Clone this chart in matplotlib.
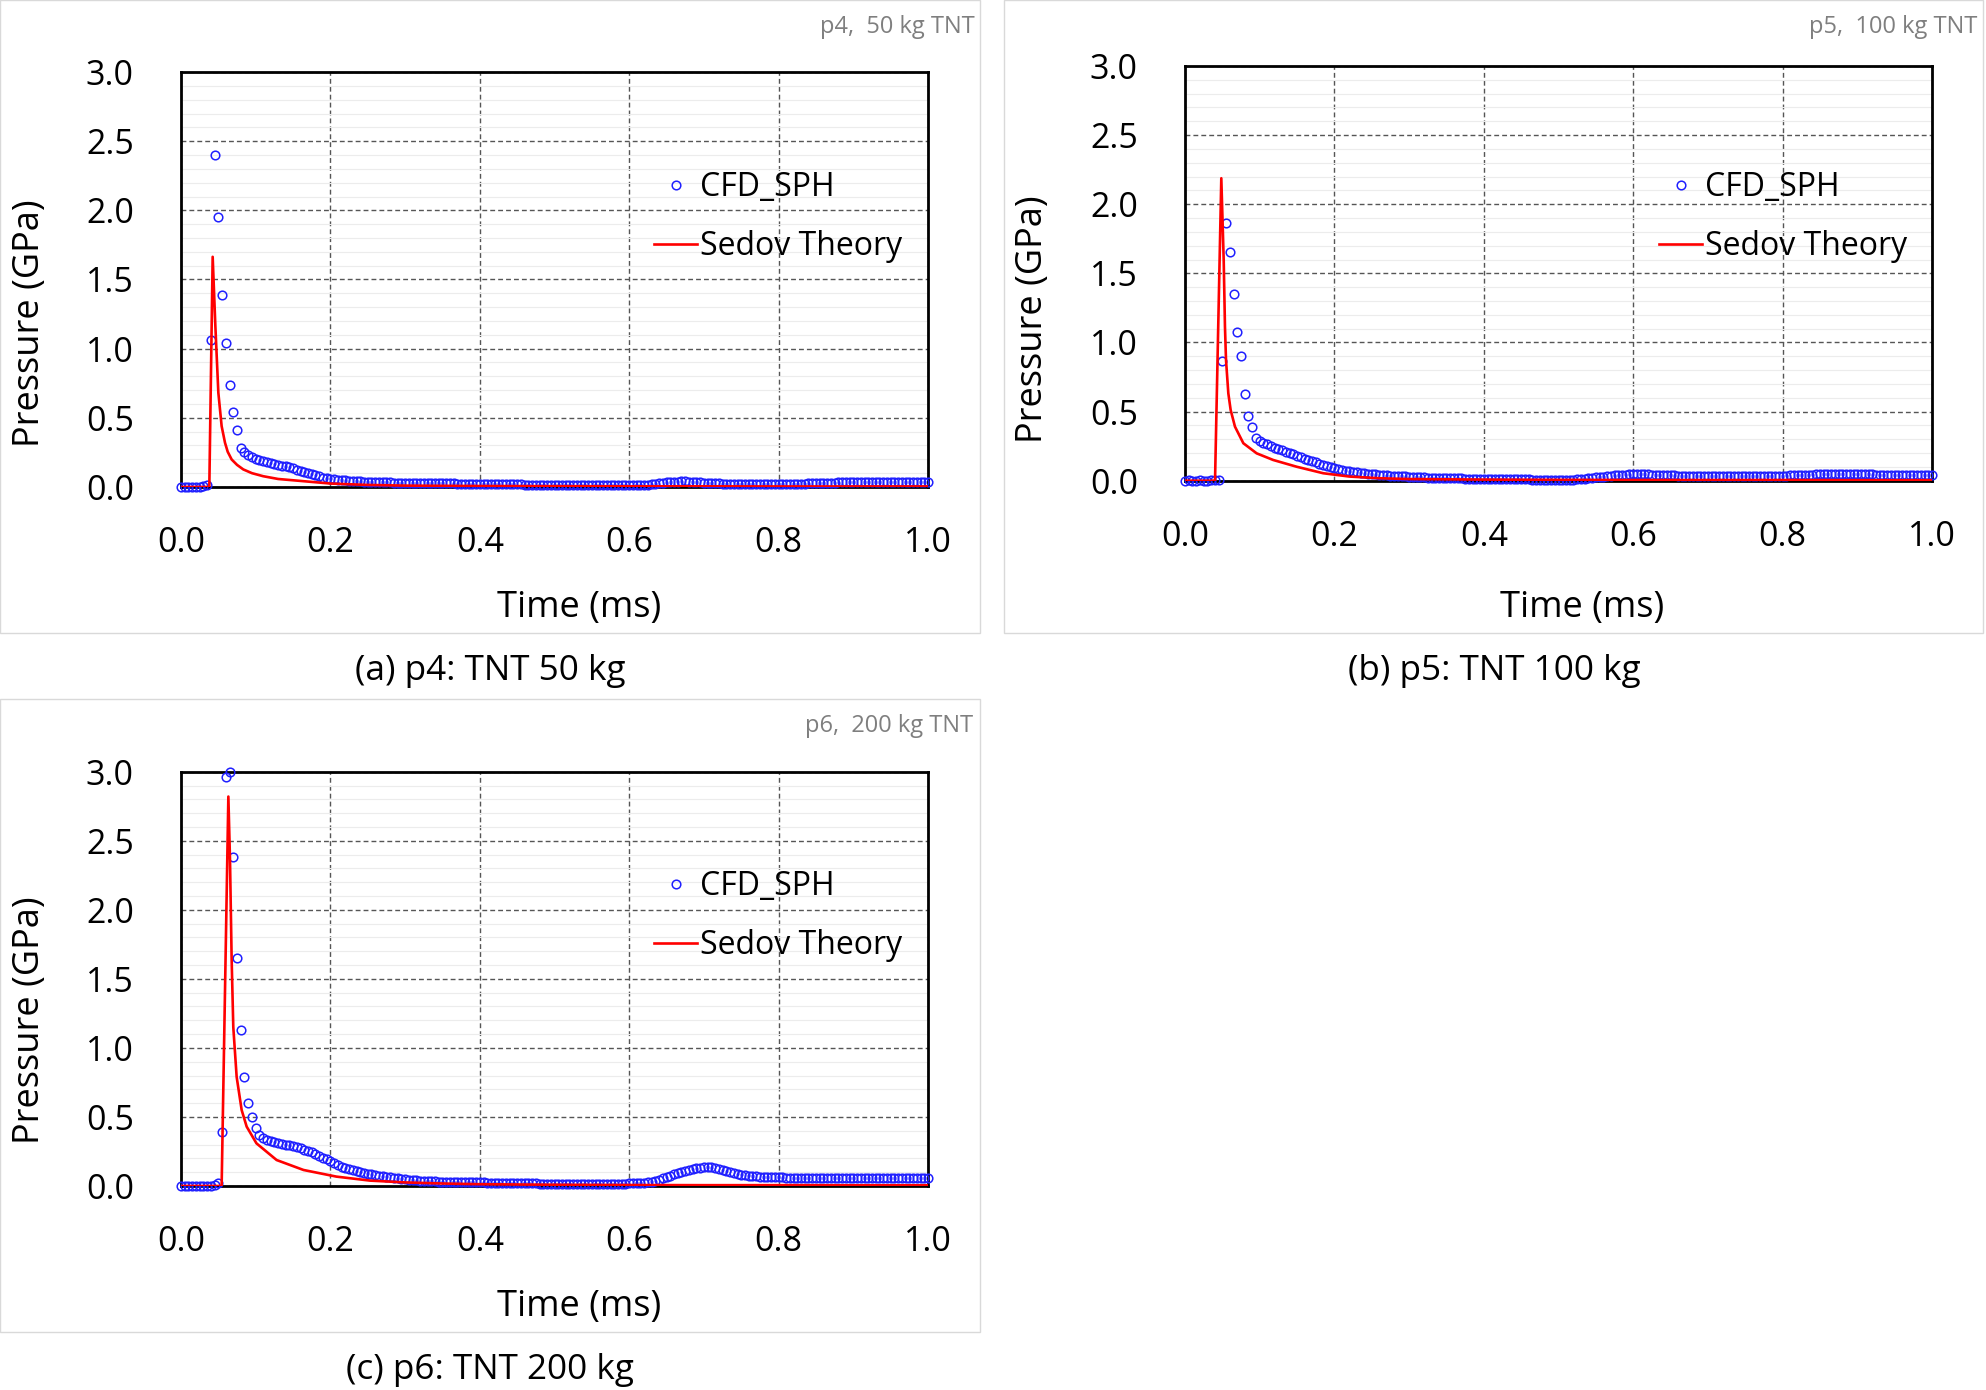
import numpy as np
import matplotlib
matplotlib.use("Agg")
import matplotlib.pyplot as plt
from matplotlib.patches import Rectangle
from matplotlib.ticker import FormatStrFormatter, MultipleLocator

# ---- data ----
dt_cfd = 0.005  # CFD output interval (ms)

p4_cfd = [0.0, 0.0, 0.002, 0.0, 0.003, 0.0, 0.004, 0.012,
          1.06, 2.40, 1.95, 1.39, 1.04, 0.74, 0.54, 0.41, 0.285,
          0.25, 0.23, 0.215, 0.203, 0.193, 0.185, 0.178, 0.171, 0.165, 0.16,
          0.155, 0.15, 0.142, 0.134, 0.126, 0.118, 0.11, 0.103, 0.094, 0.085,
          0.076, 0.067, 0.062, 0.058, 0.055, 0.052, 0.049, 0.047, 0.045, 0.043,
          0.042, 0.041, 0.039, 0.038,
          0.037, 0.036, 0.035, 0.034, 0.033, 0.033, 0.032, 0.031, 0.031, 0.030,
          0.030, 0.029, 0.029, 0.028, 0.028, 0.028, 0.027, 0.027, 0.027, 0.026,
          0.026, 0.026, 0.026, 0.025, 0.025, 0.025, 0.025, 0.024, 0.024, 0.024,
          0.024, 0.023, 0.023, 0.022, 0.022, 0.021, 0.021, 0.020, 0.020, 0.019,
          0.019, 0.018, 0.018, 0.017, 0.017, 0.016, 0.016, 0.015, 0.015, 0.014,
          0.014, 0.013, 0.013, 0.013, 0.012, 0.012, 0.012, 0.012, 0.012, 0.012,
          0.012, 0.012, 0.012, 0.012, 0.012, 0.012, 0.013, 0.013, 0.013, 0.013,
          0.014, 0.014, 0.015, 0.016, 0.018, 0.020,
          0.023, 0.027, 0.031, 0.034, 0.036, 0.038, 0.039, 0.040, 0.040, 0.039,
          0.038, 0.036, 0.034, 0.032, 0.030, 0.028,
          0.027, 0.026, 0.025, 0.025, 0.025, 0.024, 0.024, 0.024, 0.024, 0.024,
          0.024, 0.024, 0.024, 0.024, 0.024, 0.024, 0.024, 0.024, 0.024, 0.024,
          0.025, 0.025, 0.025, 0.025, 0.025, 0.026, 0.026, 0.027, 0.028, 0.029,
          0.030, 0.031, 0.032, 0.033, 0.034, 0.035, 0.036, 0.036, 0.037, 0.037,
          0.037, 0.038, 0.038, 0.038, 0.038, 0.038, 0.038, 0.038, 0.038, 0.037,
          0.037, 0.037, 0.037, 0.037, 0.037, 0.036, 0.036, 0.036]

p5_cfd = [0.0, 0.002, 0.0, 0.0, 0.003, 0.0, 0.0, 0.002, 0.004, 0.006,
          0.866, 1.862, 1.653, 1.353, 1.076, 0.90, 0.625, 0.468, 0.389, 0.31,
          0.29, 0.275, 0.262, 0.25, 0.24, 0.23, 0.22, 0.21, 0.2, 0.19,
          0.18, 0.17, 0.16, 0.15, 0.141, 0.132, 0.123, 0.114, 0.105, 0.097,
          0.09, 0.084, 0.078, 0.073, 0.068, 0.064, 0.06, 0.056, 0.053, 0.05, 0.047,
          0.045, 0.043, 0.041, 0.039, 0.037, 0.035, 0.033, 0.032, 0.031, 0.029,
          0.028, 0.027, 0.025, 0.024, 0.023, 0.022, 0.021, 0.020, 0.019, 0.018,
          0.017, 0.017, 0.016, 0.016, 0.015, 0.015, 0.014, 0.014, 0.013, 0.013,
          0.012, 0.012, 0.012, 0.011, 0.011, 0.011, 0.010, 0.010, 0.010, 0.010,
          0.009, 0.009, 0.008, 0.008, 0.008, 0.007, 0.007, 0.007, 0.007, 0.006,
          0.006, 0.006, 0.007, 0.008, 0.010, 0.012, 0.015, 0.018,
          0.021, 0.024, 0.027, 0.030, 0.033, 0.036, 0.039, 0.041, 0.043, 0.044,
          0.045, 0.046, 0.046, 0.046, 0.045, 0.045, 0.044, 0.043, 0.042, 0.041,
          0.040, 0.039, 0.038, 0.037, 0.036, 0.036, 0.035, 0.035, 0.035, 0.035,
          0.034, 0.034, 0.034, 0.034, 0.034, 0.034, 0.034, 0.034, 0.035, 0.035,
          0.035, 0.035, 0.035, 0.035, 0.035, 0.035, 0.035, 0.036, 0.036, 0.036,
          0.036, 0.037, 0.037, 0.038, 0.039, 0.040, 0.041, 0.042,
          0.043, 0.044, 0.045, 0.045, 0.046, 0.046, 0.046, 0.046, 0.046, 0.046,
          0.046, 0.046, 0.046, 0.045, 0.045, 0.045, 0.045, 0.045, 0.044, 0.044,
          0.043, 0.042, 0.041, 0.040,
          0.039, 0.039, 0.038, 0.038, 0.038, 0.038, 0.038, 0.038, 0.038, 0.038]

p6_cfd = [0.0, 0.0, 0.002, 0.0, 0.0, 0.003, 0.0, 0.002, 0.0, 0.004,
          0.02, 0.39, 2.96, 2.995, 2.385, 1.65, 1.13, 0.787, 0.60, 0.497, 0.42,
          0.37, 0.345, 0.335, 0.325, 0.318, 0.31, 0.305, 0.30, 0.295, 0.288,
          0.28, 0.272, 0.264, 0.255, 0.243, 0.23, 0.218, 0.205, 0.192, 0.18,
          0.166, 0.152, 0.14, 0.13, 0.122, 0.115, 0.108, 0.102, 0.096, 0.09,
          0.085, 0.08, 0.076, 0.072, 0.068, 0.064, 0.06, 0.056, 0.052, 0.048,
          0.045, 0.042, 0.04, 0.038, 0.036, 0.035, 0.034, 0.033, 0.032, 0.031,
          0.031, 0.030, 0.030, 0.029, 0.029, 0.028, 0.028, 0.027, 0.027, 0.026,
          0.026, 0.025, 0.025, 0.024, 0.024, 0.023, 0.023, 0.022, 0.022, 0.021,
          0.021, 0.020, 0.020, 0.019, 0.019, 0.018, 0.018, 0.017, 0.017, 0.016,
          0.016, 0.016, 0.015, 0.015, 0.015, 0.015, 0.015, 0.015, 0.015, 0.015,
          0.015, 0.015, 0.015, 0.015, 0.016, 0.016, 0.017, 0.017, 0.018, 0.019,
          0.020, 0.021, 0.023, 0.025, 0.028, 0.031,
          0.035, 0.045, 0.055, 0.065, 0.075, 0.085, 0.095, 0.103, 0.11, 0.116,
          0.122, 0.127, 0.131, 0.134, 0.135, 0.134, 0.13, 0.124, 0.116, 0.106,
          0.098, 0.091, 0.086, 0.082, 0.078, 0.075, 0.072, 0.07, 0.068, 0.067,
          0.066, 0.065, 0.064, 0.063, 0.062, 0.061, 0.060, 0.060, 0.059, 0.058,
          0.058, 0.057, 0.057, 0.057,
          0.056, 0.056, 0.056, 0.055, 0.055, 0.056, 0.056, 0.056, 0.057, 0.057,
          0.056, 0.056, 0.056, 0.056, 0.055, 0.055, 0.055, 0.056, 0.056, 0.056,
          0.057, 0.057, 0.057, 0.056, 0.056, 0.056, 0.056, 0.056, 0.056, 0.056]

p4_sedov_t = [0.0, 0.0379, 0.0424, 0.046, 0.050, 0.0544, 0.0589, 0.0625, 0.0678,
              0.075, 0.0834, 0.095, 0.110, 0.13, 0.164, 0.20, 0.25, 0.30, 0.40,
              0.50, 0.60, 0.70, 0.80, 0.90, 1.0]
p4_sedov_p = [0.0, 0.0, 1.664, 1.163, 0.681, 0.44, 0.32, 0.255, 0.199,
              0.16, 0.127, 0.10, 0.078, 0.058, 0.042, 0.025, 0.015, 0.010, 0.007,
              0.006, 0.005, 0.005, 0.004, 0.004, 0.004]

p5_sedov_t = [0.0, 0.0402, 0.0486, 0.0518, 0.0535, 0.0549, 0.058, 0.0611, 0.0669,
              0.0781, 0.0959, 0.118, 0.1495, 0.185, 0.22, 0.26, 0.30, 0.40, 0.50,
              0.60, 0.70, 0.80, 0.90, 1.0]
p5_sedov_p = [0.0, 0.0, 2.188, 1.597, 1.114, 0.873, 0.632, 0.512, 0.391,
              0.271, 0.198, 0.150, 0.101, 0.054, 0.03, 0.018, 0.012, 0.008, 0.006,
              0.005, 0.005, 0.005, 0.004, 0.004]

p6_sedov_t = [0.0, 0.0544, 0.0634, 0.0656, 0.0678, 0.070, 0.0745, 0.0812, 0.0879,
              0.101, 0.128, 0.164, 0.208, 0.253, 0.30, 0.35, 0.40, 0.50, 0.60,
              0.70, 0.80, 0.90, 1.0]
p6_sedov_p = [0.0, 0.0, 2.82, 2.36, 1.64, 1.15, 0.79, 0.55, 0.43,
              0.309, 0.188, 0.116, 0.068, 0.039, 0.026, 0.018, 0.013, 0.009, 0.007,
              0.006, 0.006, 0.005, 0.005]

corner_labels = ["p4,  50 kg TNT", "p5,  100 kg TNT", "p6,  200 kg TNT"]
captions = ["(a) p4: TNT 50 kg", "(b) p5: TNT 100 kg", "(c) p6: TNT 200 kg"]

# ---- layout (pixel coordinates of the 1986x1390 image) ----
W, H = 1986, 1390
plt.rcParams['font.family'] = ['Open Sans', 'DejaVu Sans']

fig = plt.figure(figsize=(W / 100, H / 100), dpi=100)


def fx(x):
    return x / W


def fy(y):
    return 1 - y / H


panels = [
    dict(box=(0, 0, 980, 633), ax=(181, 72, 928, 487), cfd=p4_cfd,
         st=p4_sedov_t, sp=p4_sedov_p, corner=(975, 27), cap=(490, 671),
         ylab=(30, 323), xlab=(579, 608), leg=(654, 217)),
    dict(box=(1004, 0, 1983, 633), ax=(1185, 66, 1932, 480.7), cfd=p5_cfd,
         st=p5_sedov_t, sp=p5_sedov_p, corner=(1977, 27), cap=(1494, 671),
         ylab=(1033, 319), xlab=(1582, 608), leg=(1659, 217)),
    dict(box=(0, 699, 980, 1332), ax=(181, 771.7, 928, 1186), cfd=p6_cfd,
         st=p6_sedov_t, sp=p6_sedov_p, corner=(973, 726), cap=(490, 1370),
         ylab=(30, 1020), xlab=(579, 1307), leg=(654, 916)),
]

FS = 24.5      # tick labels
FS_LAB = 26    # axis titles

for k, pn in enumerate(panels):
    # light frame around each chart
    x0, y0, x1, y1 = pn['box']
    fig.patches.append(Rectangle((fx(x0), fy(y1)), (x1 - x0) / W, (y1 - y0) / H,
                                 transform=fig.transFigure, fill=False,
                                 edgecolor='#d9d9d9', linewidth=1.0))

    l, t, r, b = pn['ax']
    ax = fig.add_axes([fx(l), fy(b), (r - l) / W, (b - t) / H])

    t_cfd = np.arange(len(pn['cfd'])) * dt_cfd
    ax.plot(t_cfd, pn['cfd'], linestyle='none', marker='o', markersize=6.2,
            markerfacecolor='none', markeredgecolor='#2020ff', markeredgewidth=1.1,
            label='CFD_SPH', clip_on=False, zorder=3)
    ax.plot(pn['st'], pn['sp'], color='#ff0000', linewidth=1.9,
            label='Sedov Theory', zorder=4)

    ax.set_xlim(0, 1.0)
    ax.set_ylim(0, 3.0)
    ax.xaxis.set_major_locator(MultipleLocator(0.2))
    ax.yaxis.set_major_locator(MultipleLocator(0.5))
    ax.yaxis.set_minor_locator(MultipleLocator(0.1))
    ax.xaxis.set_major_formatter(FormatStrFormatter('%.1f'))
    ax.yaxis.set_major_formatter(FormatStrFormatter('%.1f'))
    ax.tick_params(axis='both', which='both', length=0, labelsize=FS)
    ax.tick_params(axis='y', pad=34)
    ax.tick_params(axis='x', pad=28)

    ax.grid(True, which='minor', axis='y', color='#ececec', linewidth=0.8)
    ax.grid(True, which='major', axis='both', color='#555555', linewidth=1.0,
            linestyle=(0, (3.5, 2.2)))
    ax.set_axisbelow(True)
    for s in ax.spines.values():
        s.set_linewidth(2.0)
        s.set_color('black')

    # axis titles
    ax.set_xlabel('Time (ms)', fontsize=FS_LAB)
    ax.set_ylabel('Pressure (GPa)', fontsize=FS_LAB)
    bw, bh = r - l, b - t
    ax.xaxis.set_label_coords((pn['xlab'][0] - l) / bw, (b - pn['xlab'][1]) / bh)
    ax.yaxis.set_label_coords((pn['ylab'][0] - l) / bw, (b - pn['ylab'][1]) / bh)
    ax.xaxis.label.set_va('center')
    ax.yaxis.label.set_va('center')

    ax.legend(loc='center left',
              bbox_to_anchor=((pn['leg'][0] - l) / bw, (b - pn['leg'][1]) / bh),
              frameon=False, fontsize=23, handlelength=1.35, handletextpad=0.1,
              labelspacing=0.8, borderpad=0, borderaxespad=0, numpoints=1)

    fig.text(fx(pn['corner'][0]), fy(pn['corner'][1]), corner_labels[k],
             ha='right', va='center', fontsize=17, color='#7f7f7f')
    fig.text(fx(pn['cap'][0]), fy(pn['cap'][1]), captions[k],
             ha='center', va='center', fontsize=25.3, color='black')

fig.savefig('out.png', dpi=100)
